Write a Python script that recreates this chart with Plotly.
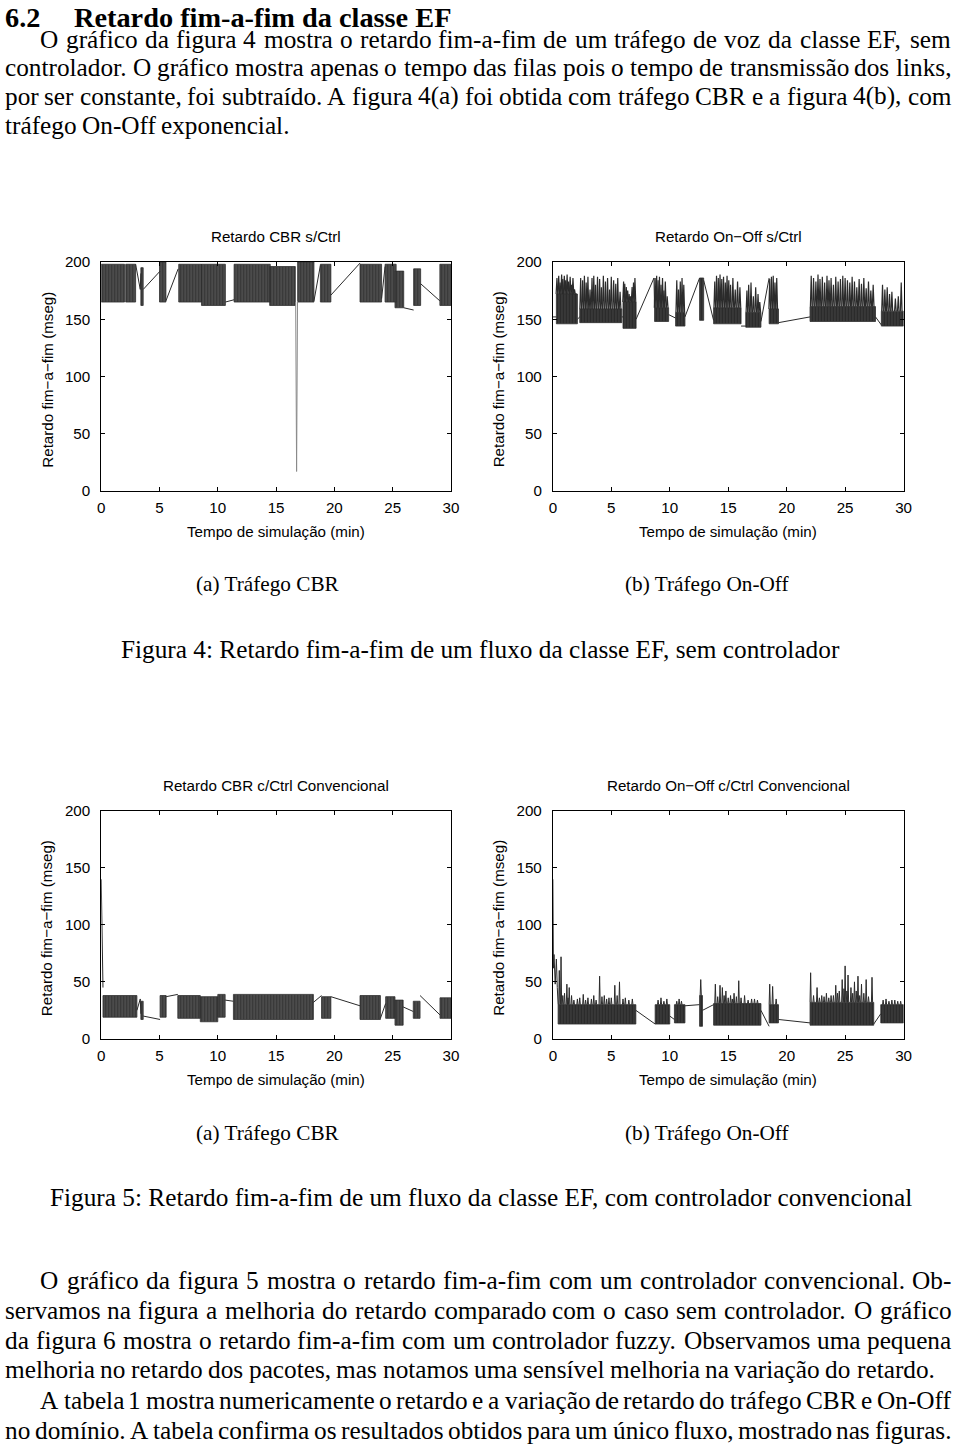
import plotly.graph_objects as go

W, H = 960, 1448

# ---------------- data ----------------
a_burst_start = [0.00, 2.10, 3.40, 5.00, 6.65, 8.60, 11.40, 14.45, 16.85, 18.80, 22.20, 24.35, 25.20, 26.80, 29.05]
a_burst_end   = [2.00, 2.95, 3.60, 5.55, 8.60, 10.65, 14.50, 16.65, 18.25, 19.70, 24.05, 25.30, 25.95, 27.40, 30.00]
a_burst_high  = [198, 198, 195, 200, 198, 198, 198, 196, 200, 198, 198, 198, 192, 194, 198]
a_burst_low   = [165, 165, 162, 165, 165, 162, 165, 162, 165, 165, 165, 165, 160, 162, 162]
a_link_time   = [2.95, 3.35, 3.40, None, 3.60, 5.05, None, 5.55, 6.60, None, 10.65, 11.40, None,
                 18.25, 18.80, None, 19.70, 22.20, None, 24.05, 24.35, None, 25.95, 26.80, None, 27.40, 29.05]
a_link_delay  = [198, 176, 190, None, 176, 192, None, 166, 194, None, 165, 167, None,
                 166, 197, None, 171, 199, None, 168, 196, None, 160, 158, None, 181, 166]
a_dip_time    = [16.68, 16.76, 16.84]
a_dip_delay   = [165, 17, 166]

b_core_start = [0.30, 2.30, 6.00, 8.70, 10.50, 12.55, 13.75, 16.50, 18.50, 22.00, 28.10]
b_core_end   = [2.10, 5.90, 7.12, 9.90, 11.30, 12.90, 16.10, 17.80, 19.30, 27.60, 30.00]
b_core_high  = [172, 159, 165, 160, 156, 186, 160, 156, 159, 161, 157]
b_core_low   = [146, 147, 142, 148, 144, 149, 146, 143, 146, 148, 144]
b_spike_time = [0.35, 0.50, 0.62, 0.75, 0.85, 0.98, 1.10, 1.22, 1.35, 1.48, 1.60, 1.72, 1.85, 1.98,
                2.38, 2.55, 2.70, 2.85, 3.00, 3.18, 3.35, 3.50, 3.65, 3.82, 4.00, 4.15, 4.32, 4.50,
                4.68, 4.85, 5.00, 5.20, 5.38, 5.55, 5.75,
                6.05, 6.15, 6.28, 6.40, 6.52, 6.65, 6.78, 6.90, 7.02,
                8.75, 8.88, 9.00, 9.12, 9.25, 9.38, 9.50, 9.62, 9.78,
                10.60, 10.75, 10.90, 11.05, 11.20,
                13.85, 14.00, 14.15, 14.30, 14.45, 14.60, 14.75, 14.90, 15.05, 15.20, 15.40, 15.60, 15.80, 16.00,
                16.60, 16.75, 16.95, 17.15, 17.35, 17.55, 17.70,
                18.55, 18.70, 18.85, 19.00, 19.15,
                22.10, 22.30, 22.50, 22.68, 22.85, 23.05, 23.25, 23.45, 23.62, 23.80, 24.00, 24.20, 24.40, 24.60,
                24.80, 25.00, 25.20, 25.40, 25.60, 25.80, 26.00, 26.20, 26.40, 26.60, 26.80, 27.00, 27.20, 27.40,
                28.20, 28.40, 28.60, 28.80, 29.00, 29.30, 29.55, 29.80]
b_spike_delay = [186, 188, 182, 189, 185, 188, 184, 189, 183, 187, 180, 186, 176, 172,
                 186, 184, 188, 182, 187, 176, 186, 188, 180, 187, 185, 178, 188, 183,
                 186, 176, 187, 184, 181, 186, 174,
                 183, 181, 178, 175, 172, 170, 178, 182, 186,
                 186, 188, 184, 187, 180, 186, 175, 183, 170,
                 184, 176, 183, 186, 180,
                 183, 188, 186, 189, 185, 187, 182, 188, 184, 180, 186, 176, 183, 178,
                 175, 180, 182, 170, 178, 172, 165,
                 185, 187, 188, 182, 186,
                 188, 186, 183, 189, 185, 187, 182, 188, 184, 186, 180, 187, 183, 185,
                 188, 186, 184, 182, 187, 183, 178, 185, 181, 186, 177, 183, 175, 180,
                 180, 176, 178, 172, 174, 168, 170, 182]
b_link_time  = [0.00, 0.30, None, 2.10, 2.30, None, 5.90, 6.00, None, 7.12, 8.65, 8.70, None,
                9.90, 10.50, None, 11.30, 12.55, None, 12.90, 13.75, None, 16.10, 16.50, None,
                17.80, 18.50, None, 19.30, 22.00, None, 27.60, 28.10]
b_link_delay = [152, 152, None, 150, 152, None, 152, 152, None, 150, 186, 160, None,
                154, 151, None, 152, 186, None, 184, 149, None, 144, 144, None,
                148, 186, None, 147, 152, None, 152, 145]

c_burst_start = [0.15, 3.40, 5.05, 6.57, 8.50, 10.00, 11.34, 18.90, 22.20, 24.40, 25.20, 26.77, 29.06]
c_burst_end   = [3.06, 3.60, 5.57, 8.50, 10.00, 10.63, 18.20, 19.70, 23.95, 25.20, 25.90, 27.35, 30.00]
c_burst_high  = [38, 33, 38, 38, 37, 39, 39, 37, 38, 37, 34, 33, 36]
c_burst_low   = [19, 17, 19, 18, 15, 19, 17, 18, 17, 18, 12, 18, 18]
c_link_time   = [0.00, 0.04, 0.09, 0.15, None, 3.06, 3.35, 3.40, None, 3.60, 5.05, None, 5.57, 6.57, None,
                 10.63, 11.34, None, 18.20, 18.90, None, 19.70, 22.20, None, 23.95, 24.40, None,
                 25.90, 26.77, None, 27.35, 29.06]
c_link_delay  = [140, 96, 60, 45, None, 25, 35, 22, None, 20, 17, None, 37, 39, None,
                 34, 33, None, 32, 38, None, 37, 29, None, 18, 31, None,
                 28, 24, None, 38, 21]

d_core_start = [0.45, 8.75, 10.40, 12.55, 13.75, 18.50, 22.00, 28.05]
d_core_end   = [7.10, 10.00, 11.30, 12.80, 17.80, 19.30, 27.45, 30.00]
d_core_high  = [30, 30, 30, 38, 31, 30, 32, 30]
d_core_low   = [13, 13, 14, 11, 12, 14, 12, 14]
d_spike_time = [0.55, 0.70, 0.85, 1.00, 1.20, 1.30, 1.40, 1.60, 1.80, 2.10, 2.30, 2.60, 2.80, 3.00, 3.30,
                3.50, 3.70, 4.00, 4.20, 4.40, 4.60, 4.80, 5.00, 5.30, 5.50, 5.70, 6.00, 6.20, 6.50, 6.80,
                9.00, 9.25, 9.50, 9.75, 10.60, 10.80, 11.00, 12.65,
                13.90, 14.10, 14.30, 14.50, 14.65, 14.80, 15.00, 15.20, 15.35, 15.50, 15.70, 15.90, 16.10,
                16.40, 16.70, 17.00, 17.25, 17.50,
                18.55, 18.80, 19.10,
                22.05, 22.30, 22.60, 22.80, 23.00, 23.20, 23.40, 23.60, 23.80, 24.00, 24.20, 24.35, 24.50,
                24.75, 24.90, 25.00, 25.15, 25.25, 25.50, 25.65, 25.80, 25.95, 26.10, 26.25, 26.40, 26.60,
                26.80, 27.00, 27.30,
                28.25, 28.50, 28.75, 29.00, 29.25, 29.50, 29.75]
d_spike_delay = [60, 72, 38, 40, 48, 36, 45, 38, 34, 35, 36, 39, 34, 36, 35,
                 38, 34, 55, 37, 38, 35, 36, 36, 47, 38, 50, 35, 36, 34, 35,
                 34, 36, 33, 35, 33, 35, 33, 52,
                 48, 37, 47, 45, 38, 42, 36, 38, 35, 40, 37, 51, 36,
                 38, 34, 35, 35, 34,
                 48, 46, 35,
                 58, 38, 45, 36, 38, 37, 40, 36, 38, 38, 47, 40, 42,
                 52, 44, 64, 42, 56, 45, 40, 50, 42, 55, 38, 48, 40,
                 52, 37, 54,
                 34, 35, 33, 34, 34, 33, 33]
d_link_time  = [0.00, 0.05, 0.10, 0.20, 0.30, 0.38, 0.45, None, 7.10, 8.75, None, 10.00, 10.40, None,
                11.30, 12.55, None, 12.80, 13.75, None, 17.80, 18.50, None, 19.30, 22.00, None, 27.45, 28.05]
d_link_delay = [140, 62, 74, 48, 70, 45, 30, None, 25, 13, None, 20, 17, None,
                29, 30, None, 25, 30, None, 25, 11, None, 17, 14, None, 13, 22]

x_ticks = [0, 5, 10, 15, 20, 25, 30]
y_ticks = [0, 50, 100, 150, 200]

titles = ["Retardo CBR s/Ctrl", "Retardo On\u2212Off s/Ctrl",
          "Retardo CBR c/Ctrl Convencional", "Retardo On\u2212Off c/Ctrl Convencional"]
x_title = "Tempo de simula\u00e7\u00e3o (min)"
y_title = "Retardo fim\u2212a\u2212fim (mseg)"

# ---------------- page geometry (the photographed page is slightly shrunk; compensate) ----------------
SX, OX = 0.9883, 3.7
SY, OY = 0.9884, 9.0
LEFT = OX + 0.6                 # leftmost point reachable on the photographed page
RIGHT = OX + SX * (W - 1.5)     # rightmost point reachable


def X(r):
    return min(max((r - OX) / SX, 0.0), W - 0.5)


def Y(r):
    return min(max((r - OY) / SY, 0.0), H - 0.5)


def FS(s):
    return s / SY


def band_xy(starts, ends, highs, lows):
    xs, ys = [], []
    for s, e, h, l in zip(starts, ends, highs, lows):
        xs += [s, e, e, s, s, None]
        ys += [h, h, l, l, h, None]
    return xs, ys


def spikes_xy(times, peaks, starts, ends, highs, half):
    xs, ys = [], []
    for t, p in zip(times, peaks):
        base = highs[0]
        for s, e, h in zip(starts, ends, highs):
            if s - 0.06 <= t <= e + 0.06:
                base = h
                break
        xs += [t - half, t, t + half, None]
        ys += [base, p, base, None]
    return xs, ys


fig = go.Figure()

panels = {
    1: dict(px=(101, 451), py=(262, 491)),
    2: dict(px=(553, 904), py=(262, 491)),
    3: dict(px=(101, 451), py=(811, 1039)),
    4: dict(px=(553, 904), py=(811, 1039)),
}

LINE = "#2b2b2b"


def axref(i):
    return ("x" if i == 1 else f"x{i}", "y" if i == 1 else f"y{i}")


def add_band(i, starts, ends, highs, lows, bg="#5c5c5c"):
    xr, yr = axref(i)
    bx, by = band_xy(starts, ends, highs, lows)
    fig.add_trace(go.Scatter(x=bx, y=by, mode="lines", fill="toself", fillcolor="#222222",
                             fillpattern=dict(shape="|", size=3, solidity=0.62,
                                              fgcolor="#0d0d0d", bgcolor=bg),
                             line=dict(color="#303030", width=0.8), xaxis=xr, yaxis=yr,
                             showlegend=False, hoverinfo="skip"))


def add_line(i, xs, ys, color=LINE, width=1.0):
    xr, yr = axref(i)
    fig.add_trace(go.Scatter(x=xs, y=ys, mode="lines", line=dict(color=color, width=width),
                             xaxis=xr, yaxis=yr, showlegend=False, hoverinfo="skip",
                             connectgaps=False))


add_band(1, a_burst_start, a_burst_end, a_burst_high, a_burst_low)
add_line(1, a_link_time, a_link_delay)
add_line(1, a_dip_time, a_dip_delay, color="#8a8a8a", width=1)
add_band(2, b_core_start, b_core_end, b_core_high, b_core_low, bg="#444444")
sx, sy = spikes_xy(b_spike_time, b_spike_delay, b_core_start, b_core_end, b_core_high, 0.07)
add_line(2, sx, sy, width=1.2)
add_line(2, b_link_time, b_link_delay)
add_band(3, c_burst_start, c_burst_end, c_burst_high, c_burst_low)
add_line(3, c_link_time, c_link_delay)
add_band(4, d_core_start, d_core_end, d_core_high, d_core_low, bg="#444444")
sx, sy = spikes_xy(d_spike_time, d_spike_delay, d_core_start, d_core_end, d_core_high, 0.05)
add_line(4, sx, sy, width=1.0)
add_line(4, d_link_time, d_link_delay)

SANS = "Liberation Sans"
SERIF = "Liberation Serif"
axis_font = dict(family=SANS, size=FS(15), color="black")

layout = dict(width=W, height=H, margin=dict(l=0, r=0, t=0, b=0),
              paper_bgcolor="white", plot_bgcolor="white", showlegend=False)
for i, p in panels.items():
    xk = "xaxis" if i == 1 else f"xaxis{i}"
    yk = "yaxis" if i == 1 else f"yaxis{i}"
    xr, yr = axref(i)
    layout[xk] = dict(domain=[X(p["px"][0]) / W, X(p["px"][1]) / W], anchor=yr, range=[0, 30],
                      tickvals=x_ticks, ticktext=[str(v) for v in x_ticks],
                      ticks="inside", ticklen=4, tickcolor="black", tickwidth=1,
                      showline=True, linecolor="black", linewidth=1, mirror="ticks",
                      showgrid=False, zeroline=False, tickfont=axis_font, ticklabelstandoff=3,
                      fixedrange=True)
    layout[yk] = dict(domain=[1 - Y(p["py"][1]) / H, 1 - Y(p["py"][0]) / H], anchor=xr, range=[0, 200],
                      tickvals=y_ticks, ticktext=[str(v) for v in y_ticks],
                      ticks="inside", ticklen=4, tickcolor="black", tickwidth=1,
                      showline=True, linecolor="black", linewidth=1, mirror="ticks",
                      showgrid=False, zeroline=False, tickfont=axis_font, ticklabelstandoff=7,
                      fixedrange=True)
fig.update_layout(**layout)


def ann(text, x, y, size, family=SANS, xanchor="center", angle=0, bold=False, box_h=None):
    """x, y, size are given in reference-page pixels."""
    if bold:
        text = "<b>" + text + "</b>"
    kw = {}
    if box_h is not None:
        kw["height"] = FS(box_h)
        kw["valign"] = "middle"
    fig.add_annotation(text=text, x=X(x) / W, y=1 - Y(y) / H, xref="paper", yref="paper",
                       showarrow=False, xanchor=xanchor, yanchor="middle", textangle=angle,
                       borderpad=0, borderwidth=0,
                       font=dict(family=family, size=FS(size), color="black"), **kw)


for i, p in panels.items():
    cx = (p["px"][0] + p["px"][1]) / 2
    top, bot = p["py"]
    ann(titles[i - 1], cx, top - 25, 15)
    ann(x_title, cx, bot + 41, 15)
    ann(y_title, p["px"][0] - 54, (top + bot) / 2 + 3, 15, angle=-90)

TW = {' ': 250, '(': 333, ')': 333, ',': 250, '-': 333, '.': 250, ':': 278, '/': 278}
for ch in '0123456789':
    TW[ch] = 500
TW.update(dict(A=722, B=667, C=667, D=722, E=611, F=556, G=722, H=722, I=333, J=389, K=722, L=611,
               M=889, N=722, O=722, P=556, Q=722, R=667, S=556, T=611, U=722, V=722, W=944, X=722,
               Y=722, Z=611, a=444, b=500, c=444, d=500, e=444, f=333, g=500, h=500, i=278, j=278,
               k=500, l=278, m=778, n=500, o=500, p=500, q=500, r=333, s=389, t=278, u=500, v=500,
               w=722, x=500, y=500, z=444))
TW.update({'\u00e1': 444, '\u00e3': 444, '\u00e2': 444, '\u00e9': 444, '\u00ea': 444, '\u00ed': 278,
           '\u00f3': 500, '\u00f5': 500, '\u00fa': 500, '\u00e7': 444})


def tw(word, size):
    return sum(TW.get(ch, 500) for ch in word) * size / 1000.0


def text_line(text, x0, x1, yc, size=25, justify=True):
    x0 = max(x0, LEFT)
    x1 = min(x1, RIGHT)
    words = text.split()
    widths = [tw(w, size) for w in words]
    gap = 0.25 * size
    if justify and len(words) > 1:
        gap = (x1 - x0 - sum(widths)) / (len(words) - 1)
    x = x0
    for w, wd in zip(words, widths):
        ann(w, x, yc, size, family=SERIF, xanchor="left")
        x += wd + gap


ann("6.2", LEFT, 17.0, 28, family=SERIF, xanchor="left", bold=True, box_h=22)
ann("Retardo fim-a-fim da classe EF", 74, 17.0, 28, family=SERIF, xanchor="left", bold=True, box_h=22)

para1 = [
    ("O gr\u00e1fico da figura 4 mostra o retardo fim-a-fim de um tr\u00e1fego de voz da classe EF, sem", 40, 958, 39.5, True),
    ("controlador. O gr\u00e1fico mostra apenas o tempo das filas pois o tempo de transmiss\u00e3o dos links,", 0, 958, 67.5, True),
    ("por ser constante, foi subtra\u00eddo. A figura 4(a) foi obtida com tr\u00e1fego CBR e a figura 4(b), com", 0, 958, 96, True),
    ("tr\u00e1fego On-Off exponencial.", 0, 958, 125, False),
]
para2 = [
    ("O gr\u00e1fico da figura 5 mostra o retardo fim-a-fim com um controlador convencional. Ob-", 40, 958, 1280, True),
    ("servamos na figura a melhoria do retardo comparado com o caso sem controlador. O gr\u00e1fico", 0, 958, 1310, True),
    ("da figura 6 mostra o retardo fim-a-fim com um controlador fuzzy. Observamos uma pequena", 0, 958, 1340, True),
    ("melhoria no retardo dos pacotes, mas notamos uma sens\u00edvel melhoria na varia\u00e7\u00e3o do retardo.", 0, 958, 1369, False),
    ("A tabela 1 mostra numericamente o retardo e a varia\u00e7\u00e3o de retardo do tr\u00e1fego CBR e On-Off", 40, 958, 1400, True),
    ("no dom\u00ednio. A tabela confirma os resultados obtidos para um \u00fanico fluxo, mostrado nas figuras.", 0, 956, 1430, True),
]
for t, x0, x1, y, j in para1 + para2:
    text_line(t, x0, x1, y, 25, j)

ann("(a) Tr\u00e1fego CBR", 268, 584, 21, family=SERIF)
ann("(b) Tr\u00e1fego On-Off", 707, 584, 21, family=SERIF)
ann("Figura 4: Retardo fim-a-fim de um fluxo da classe EF, sem controlador", 481, 649, 25, family=SERIF)
ann("(a) Tr\u00e1fego CBR", 268, 1133, 21, family=SERIF)
ann("(b) Tr\u00e1fego On-Off", 707, 1133, 21, family=SERIF)
ann("Figura 5: Retardo fim-a-fim de um fluxo da classe EF, com controlador convencional", 481, 1197, 25, family=SERIF)

fig.write_html("out.html")
